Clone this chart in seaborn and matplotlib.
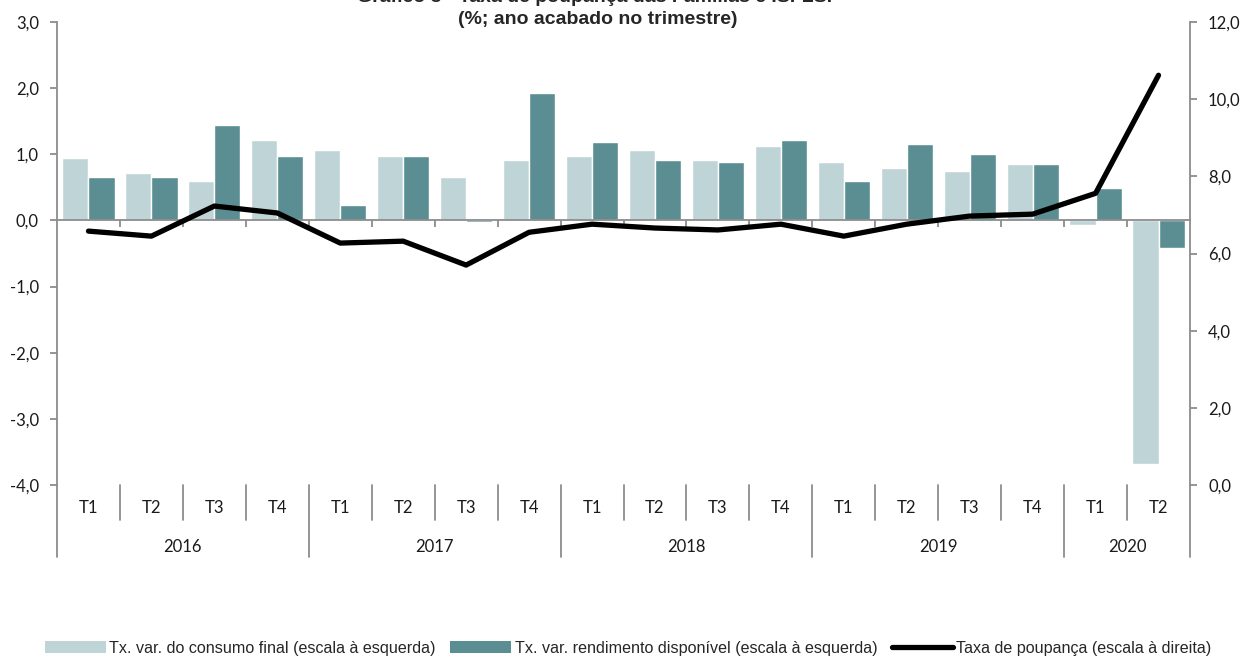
import numpy as np
import pandas as pd
import matplotlib
matplotlib.use("Agg")
import matplotlib.pyplot as plt
import seaborn as sns
from matplotlib.ticker import FuncFormatter, FixedLocator
from matplotlib.patches import Patch
from matplotlib.lines import Line2D

# ---------------- data ----------------
years = ["2016", "2017", "2018", "2019", "2020"]
quarters_per_year = [4, 4, 4, 4, 2]
quarters = ["T1", "T2", "T3", "T4"] * 4 + ["T1", "T2"]
periods = ["2016 T1", "2016 T2", "2016 T3", "2016 T4",
           "2017 T1", "2017 T2", "2017 T3", "2017 T4",
           "2018 T1", "2018 T2", "2018 T3", "2018 T4",
           "2019 T1", "2019 T2", "2019 T3", "2019 T4",
           "2020 T1", "2020 T2"]
consumo = [0.95, 0.71, 0.59, 1.22, 1.07, 0.98, 0.65, 0.92, 0.98, 1.07,
           0.92, 1.13, 0.89, 0.80, 0.74, 0.86, -0.07, -3.68]
rendimento = [0.65, 0.65, 1.44, 0.98, 0.23, 0.98, -0.03, 1.92, 1.19, 0.92,
              0.89, 1.22, 0.59, 1.16, 1.01, 0.86, 0.49, -0.41]
poupanca = [6.58, 6.45, 7.23, 7.05, 6.27, 6.32, 5.70, 6.55, 6.76, 6.66,
            6.61, 6.76, 6.45, 6.76, 6.97, 7.02, 7.56, 10.62]
series_names = ["Tx. var. do consumo final (escala à esquerda)",
                "Tx. var. rendimento disponível (escala à esquerda)",
                "Taxa de poupança (escala à direita)"]
title1 = "Gráfico 3 - Taxa de poupança das Famílias e ISFLSF"
title2 = "(%; ano acabado no trimestre)"

LIGHT = "#BED4D7"
DARK = "#5A8E93"
GRAY = "#8C8C8C"

sns.set_theme(style="white")
plt.rcParams['font.family'] = ['Lato', 'DejaVu Sans']
NARROW = ['Liberation Sans Narrow', 'Liberation Sans', 'DejaVu Sans']

W, H = 1245, 657
fig = plt.figure(figsize=(W / 100, H / 100), dpi=100)
ax = fig.add_axes([57 / W, 1 - 485 / H, (1190 - 57) / W, 463 / H])

df = pd.DataFrame({
    "periodo": periods * 2,
    "valor": consumo + rendimento,
    "serie": [series_names[0]] * len(periods) + [series_names[1]] * len(periods),
})
sns.barplot(data=df, x="periodo", y="valor", hue="serie", order=periods,
            hue_order=series_names[:2], palette=[LIGHT, DARK], width=0.83,
            saturation=1, legend=False, ax=ax)

ax2 = ax.twinx()
sns.lineplot(x=np.arange(len(periods)), y=poupanca, ax=ax2, color="black",
             linewidth=3.8, solid_capstyle="round", solid_joinstyle="round")

n = len(periods)
ax.set_xlim(-0.5, n - 0.5)
ax2.set_xlim(-0.5, n - 0.5)
ax.set_ylim(-4, 3)
ax2.set_ylim(0, 12)
ax.set_xlabel("")
ax.set_ylabel("")
ax2.set_ylabel("")

fmt = FuncFormatter(lambda v, p: f"{v:.1f}".replace(".", ","))
ax.yaxis.set_major_locator(FixedLocator(np.arange(-4, 3.01, 1)))
ax.yaxis.set_major_formatter(fmt)
ax2.yaxis.set_major_locator(FixedLocator(np.arange(0, 12.01, 2)))
ax2.yaxis.set_major_formatter(fmt)

# zero axis with boundary ticks
ax.spines["bottom"].set_position(("data", 0))
ax.set_xticks(np.arange(0.5, n - 1, 1))
ax.set_xticklabels([])
for s in ["top", "right"]:
    ax.spines[s].set_visible(False)
for s in ["top", "left", "bottom"]:
    ax2.spines[s].set_visible(False)
for sp in [ax.spines["left"], ax.spines["bottom"], ax2.spines["right"]]:
    sp.set_color(GRAY)
    sp.set_linewidth(1.3)
ax.tick_params(axis="x", direction="out", length=5, width=1.3, color=GRAY, bottom=True)
ax.tick_params(axis="y", direction="out", length=5, width=1.3, color=GRAY, left=True,
               labelsize=12, labelcolor="#1a1a1a", pad=8)
ax2.tick_params(axis="y", direction="out", length=5, width=1.3, color=GRAY, right=True,
                labelsize=12, labelcolor="#1a1a1a", pad=8)
ax.grid(False)
ax2.grid(False)

# multi-level category axis below the plot
trans = ax.get_xaxis_transform()
y_short = -35 / 463
y_long = -72 / 463
for xb in [-0.5, n - 0.5]:
    ax.plot([xb, xb], [0, y_long], transform=trans, color=GRAY, lw=1.3, clip_on=False)
idx = 0
for yr, nq in zip(years, quarters_per_year):
    for k in range(nq):
        ax.text(idx + k, -23 / 463, quarters[idx + k], transform=trans,
                ha="center", va="center", fontsize=12, color="#1a1a1a")
        if k > 0:
            ax.plot([idx + k - 0.5] * 2, [0, y_short], transform=trans,
                    color=GRAY, lw=1.3, clip_on=False)
    ax.text(idx + (nq - 1) / 2, -62 / 463, yr, transform=trans,
            ha="center", va="center", fontsize=12, color="#1a1a1a")
    if idx > 0:
        ax.plot([idx - 0.5] * 2, [0, y_long], transform=trans,
                color=GRAY, lw=1.3, clip_on=False)
    idx += nq

# titles (first line is cut by the top edge like the reference)
fig.text(598 / W, 1 + 2 / H, title1, ha="center", va="center", fontsize=14,
         fontweight="bold", family=NARROW)
fig.text(598 / W, 1 - 20 / H, title2, ha="center", va="center", fontsize=14,
         fontweight="bold", family=NARROW)

handles = [Patch(facecolor=LIGHT, edgecolor="none"),
           Patch(facecolor=DARK, edgecolor="none"),
           Line2D([], [], color="black", lw=3.8)]
fig.legend(handles, series_names, loc="center", bbox_to_anchor=(628 / W, 1 - 648 / H),
           ncol=3, frameon=False, prop={"family": NARROW, "size": 11.6},
           handlelength=3.8, handleheight=0.8, handletextpad=0.2, columnspacing=0.9)

fig.savefig("out.png", dpi=100)
